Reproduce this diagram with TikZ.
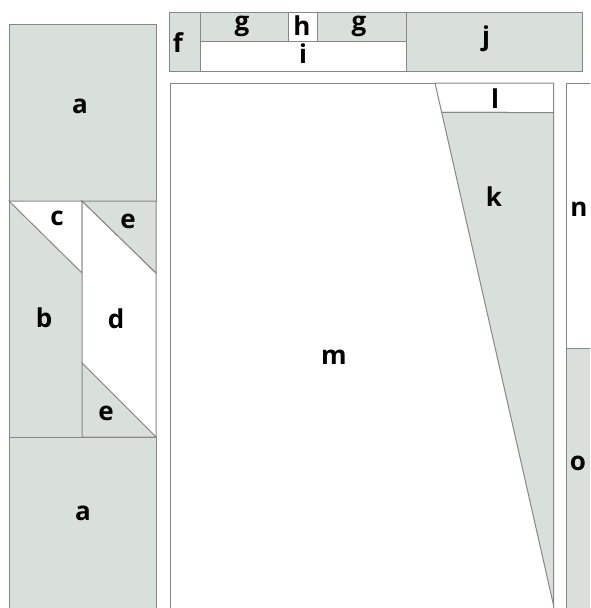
\documentclass[tikz,border=0pt]{standalone}
\usepackage{fontspec}
\setsansfont{Open Sans}
\usepackage{tikz}
\usetikzlibrary{calc}
\definecolor{patchfill}{RGB}{217,224,220}
\definecolor{seamgray}{RGB}{135,135,135}
\tikzset{
  patch/.style={fill=patchfill, draw=seamgray, line width=1pt},
  blank/.style={fill=white, draw=seamgray, line width=1pt},
  tag/.style={font=\sffamily\bfseries\fontsize{26}{26}\selectfont,
    inner sep=0pt, anchor=base}
}

\begin{document}
\begin{tikzpicture}[x=1pt, y=-1pt]
  \useasboundingbox (0,0) rectangle (590,608);
  \clip (0,0) rectangle (590,608);
  % left column
  \draw[patch] (9,24) rectangle (156,201);
  \draw[patch] (9,437) rectangle (156,620);
  \draw[patch] (9,201) rectangle (82,437);
  \draw[blank] (9,201) -- (82,201) -- (82,273) -- cycle;
  \draw[blank] (82,201) -- (156,273) -- (156,437) -- (82,363) -- cycle;
  \draw[patch] (82,201) -- (156,201) -- (156,273) -- cycle;
  \draw[patch] (82,363) -- (156,437) -- (82,437) -- cycle;
  % top strip
  \draw[patch] (169.5,12) rectangle (200,71);
  \draw[patch] (200,12) rectangle (288.5,41);
  \draw[blank] (288.5,12) rectangle (317.5,41);
  \draw[patch] (317.5,12) rectangle (406,41);
  \draw[blank] (200,41) rectangle (406,71);
  \draw[patch] (406,12) rectangle (582.5,71);
  % main panel
  \coordinate (slantA) at (435,83);
  \coordinate (slantB) at (553.5,605);
  \draw[blank] (170,83) rectangle (553.5,620);
  \draw[blank] (slantA) -- (553.5,83) -- (553.5,112.5) -- ($(slantA)!0.0565!(slantB)$) -- cycle;
  \draw[patch] ($(slantA)!0.0565!(slantB)$) -- (553.5,112.5) -- (slantB) -- cycle;
  % right column
  \draw[blank] (566,83) rectangle (600,348.5);
  \draw[patch] (566,348.5) rectangle (600,620);
  % labels
  \node[tag] (atop) at (80,113) {a};
  \node[tag] (c) at (57,225) {c};
  \node[tag] (etop) at (128,228) {e};
  \node[tag] (b) at (44,327) {b};
  \node[tag] (d) at (116,328) {d};
  \node[tag] (ebot) at (106,420) {e};
  \node[tag] (abot) at (83,520) {a};
  \node[tag] (f) at (178,52) {f};
  \node[tag] (gleft) at (242,30) {g};
  \node[tag] (h) at (302,35) {h};
  \node[tag] (gright) at (359,30) {g};
  \node[tag] (i) at (303,63) {i};
  \node[tag] (j) at (486,45) {j};
  \node[tag] (l) at (495,108) {l};
  \node[tag] (k) at (494,206) {k};
  \node[tag] (n) at (579,216) {n};
  \node[tag] (m) at (334,364) {m};
  \node[tag] (o) at (578,470) {o};
\end{tikzpicture}
\end{document}
